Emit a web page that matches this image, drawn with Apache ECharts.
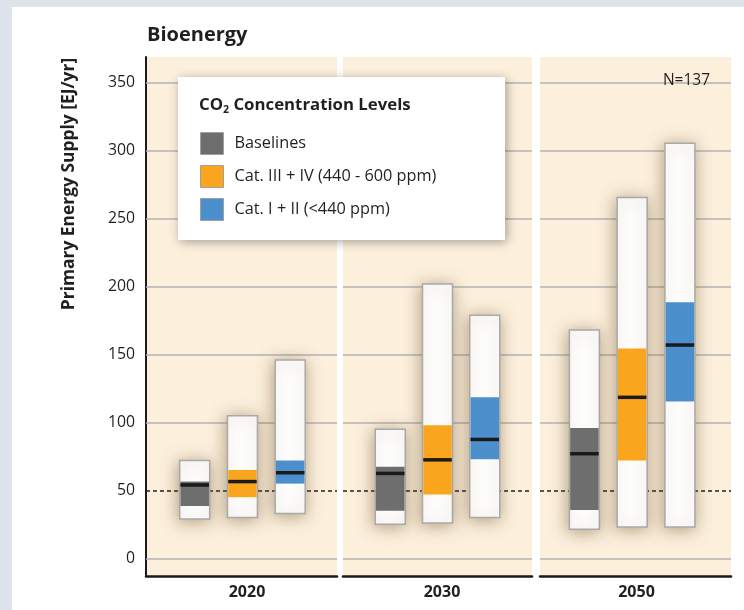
<!DOCTYPE html>
<html><head><meta charset="utf-8">
<script src="https://cdn.jsdelivr.net/npm/echarts@6/dist/echarts.min.js"></script>
<style>
html,body{margin:0;padding:0;}
body{width:744px;height:610px;background:#dde3eb;position:relative;overflow:hidden;}
#card{position:absolute;left:12px;top:7px;width:732px;height:603px;background:#fff;}
#chart{position:absolute;left:0;top:0;width:744px;height:610px;}
</style></head><body><div id="card"></div><div id="chart"></div>
<script>
// ---- data ----
const years = ['2020', '2030', '2050'];
const groups = ['Baselines', 'Cat. III + IV (440 - 600 ppm)', 'Cat. I + II (<440 ppm)'];
// per year: [min, 25th percentile, median, 75th percentile, max]  (EJ/yr)
const baselines = [[29, 38.5, 54, 56.5, 72], [25, 35, 62.5, 67.5, 95], [21.5, 35.5, 77, 96, 168]];
const cat34 = [[30, 45, 56.5, 65, 105], [26, 47, 72.5, 98, 202], [23, 72, 118.5, 154.5, 265.5]];
const cat12 = [[33, 55, 63, 72, 146], [30, 73, 87.5, 118.5, 179], [23, 115.5, 157, 188.5, 305.5]];
const yTicks = [0, 50, 100, 150, 200, 250, 300, 350];
const refLine = 50;
const sampleNote = 'N=137';
const chartTitle = 'Bioenergy';
const yName = 'Primary Energy Supply [EJ/yr]';

// ---- styling ----
const FONT = '"Open Sans", Lato, sans-serif';
const TXT = '#231f20';
const colors = ['#6e6e6e', '#f9a61e', '#4b8fcd'];
const groupData = [baselines, cat34, cat12];

const grids = [
  { left: 146, right: 407, top: 57, bottom: 34 },
  { left: 343, right: 212, top: 57, bottom: 34 },
  { left: 540, right: 13, top: 57, bottom: 34 }
];
const xMins = [-0.02, 0, 0.07];
const namePad = [11, 9, 2];

function renderBox(params, api) {
  const x = api.value(0);
  const pMin = api.coord([x, api.value(1)]);
  const pQ1 = api.coord([x, api.value(2)]);
  const pMed = api.coord([x, api.value(3)]);
  const pQ3 = api.coord([x, api.value(4)]);
  const pMax = api.coord([x, api.value(5)]);
  const w = 30;
  const left = pMin[0] - w / 2;
  const color = api.visual('color');
  return {
    type: 'group',
    children: [
      { type: 'rect', shape: { x: left, y: pMax[1], width: w, height: pMin[1] - pMax[1] },
        style: { fill: '#fff', stroke: '#a9a9a9', lineWidth: 1.5,
                 shadowBlur: 16, shadowColor: 'rgba(110,80,40,0.5)', shadowOffsetX: -1, shadowOffsetY: 2 } },
      { type: 'rect', shape: { x: left + 0.75, y: pQ3[1], width: w - 1.5, height: pQ1[1] - pQ3[1] },
        style: { fill: color } },
      { type: 'rect', shape: { x: left + 0.75, y: pMed[1] - 1.75, width: w - 1.5, height: 3.5 },
        style: { fill: '#1a1a1a' } }
    ]
  };
}

const series = [];
years.forEach((yr, g) => {
  groups.forEach((name, k) => {
    const s = {
      type: 'custom',
      name: name,
      xAxisIndex: g,
      yAxisIndex: g,
      z: 10,
      renderItem: renderBox,
      itemStyle: { color: colors[k] },
      encode: { x: 0, y: [1, 2, 3, 4, 5] },
      data: [[k + 1].concat(groupData[k][g])],
      animation: false
    };
    if (k === 0) {
      s.markLine = {
        silent: true, symbol: 'none', z: 1, animation: false,
        label: { show: false },
        data: yTicks.filter(v => v !== refLine).map(v => ({
          yAxis: v, lineStyle: { color: '#b4b4b4', width: 1.5, type: 'solid' }
        })).concat([{ yAxis: refLine, lineStyle: { color: '#222', width: 1.5, type: [4, 3] } }])
      };
    }
    series.push(s);
  });
});

const option = {
  backgroundColor: 'transparent',
  animation: false,
  grid: grids.map(gr => Object.assign({ show: true, backgroundColor: '#fcf0dd', borderWidth: 0 }, gr)),
  xAxis: years.map((yr, g) => ({
    type: 'value', gridIndex: g, min: xMins[g], max: xMins[g] + 4,
    axisLine: { show: true, onZero: false, lineStyle: { color: '#1a1a1a', width: 2.5 } },
    axisTick: { show: false }, axisLabel: { show: false }, splitLine: { show: false },
    name: yr, nameLocation: 'middle', nameGap: 8,
    nameTextStyle: { fontFamily: FONT, fontWeight: 'bold', fontSize: 16, color: TXT, padding: [0, 0, 0, namePad[g]] }
  })),
  yAxis: years.map((yr, g) => ({
    type: 'value', gridIndex: g, min: -13, max: 369, show: g === 0,
    axisLine: { show: true, onZero: false, lineStyle: { color: '#1a1a1a', width: 2 } },
    axisTick: { show: false }, splitLine: { show: false },
    axisLabel: { customValues: yTicks, margin: 11, fontSize: 15.8, fontFamily: FONT, color: TXT }
  })),
  legend: {
    data: groups, orient: 'vertical', left: 200, top: 132, padding: 0,
    itemWidth: 23, itemHeight: 22, itemGap: 10, icon: 'rect', selectedMode: false, z: 20,
    itemStyle: { borderColor: '#a0a0a0', borderWidth: 1 },
    textStyle: { fontSize: 16.3, fontFamily: FONT, color: TXT, padding: [0, 0, 0, 6] }
  },
  graphic: [
    { type: 'rect', z: 15, shape: { x: 178, y: 77, width: 327, height: 163 },
      style: { fill: '#fff', shadowBlur: 10, shadowColor: 'rgba(0,0,0,0.35)', shadowOffsetX: 2, shadowOffsetY: 2 } },
    { type: 'text', z: 16, x: 199, y: 105,
      style: { text: '{b|CO}{s|2}{b| Concentration Levels}', verticalAlign: 'middle',
        rich: {
          b: { fontFamily: FONT, fontWeight: 'bold', fontSize: 16.8, fill: TXT, lineHeight: 20 },
          s: { fontFamily: FONT, fontWeight: 'bold', fontSize: 10.5, fill: TXT, lineHeight: 22, verticalAlign: 'bottom' }
        } } },
    { type: 'text', z: 16, x: 147, y: 35,
      style: { text: chartTitle, fontFamily: FONT, fontWeight: 'bold', fontSize: 20, fill: TXT, verticalAlign: 'middle' } },
    { type: 'text', z: 16, x: 69, y: 184, rotation: Math.PI / 2,
      style: { text: yName, fontFamily: FONT, fontWeight: 'bold', fontSize: 17.4, fill: TXT, align: 'center', verticalAlign: 'middle' } },
    { type: 'text', z: 16, x: 686.5, y: 81,
      style: { text: sampleNote, fontFamily: FONT, fontSize: 15.5, fill: TXT, align: 'center', verticalAlign: 'middle' } }
  ],
  series: series
};

const chart = echarts.init(document.getElementById('chart'), null, { renderer: 'canvas' });
chart.setOption(option);
</script>
</body></html>
